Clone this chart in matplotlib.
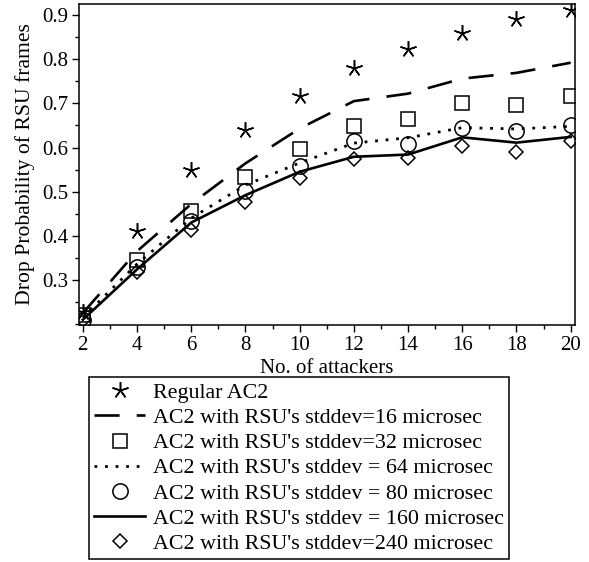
import matplotlib
matplotlib.use("Agg")
import matplotlib.pyplot as plt
from matplotlib.ticker import MultipleLocator, FormatStrFormatter

plt.rcParams['font.family'] = ['Liberation Serif', 'DejaVu Serif']
plt.rcParams['font.size'] = 15

attackers = [2, 4, 6, 8, 10, 12, 14, 16, 18, 20]
regular_ac2 = [0.228, 0.411, 0.549, 0.639, 0.716, 0.779, 0.824, 0.860, 0.892, 0.912]
sd16 = [0.225, 0.365, 0.472, 0.564, 0.643, 0.705, 0.722, 0.756, 0.769, 0.792]
sd32 = [0.221, 0.345, 0.456, 0.534, 0.596, 0.649, 0.664, 0.700, 0.696, 0.716]
sd64 = [0.215, 0.336, 0.440, 0.515, 0.565, 0.610, 0.622, 0.645, 0.642, 0.648]
sd80 = [0.210, 0.330, 0.434, 0.502, 0.559, 0.615, 0.608, 0.645, 0.637, 0.651]
sd160 = [0.210, 0.324, 0.430, 0.492, 0.545, 0.579, 0.584, 0.623, 0.611, 0.624]
sd240 = [0.210, 0.319, 0.413, 0.477, 0.531, 0.574, 0.577, 0.604, 0.589, 0.615]

labels = ["Regular AC2",
          "AC2 with RSU's stddev=16 microsec",
          "AC2 with RSU's stddev=32 microsec",
          "AC2 with RSU's stddev = 64 microsec",
          "AC2 with RSU's stddev = 80 microsec",
          "AC2 with RSU's stddev = 160 microsec",
          "AC2 with RSU's stddev=240 microsec"]

fig = plt.figure(figsize=(5.89, 5.62), dpi=100)
ax = fig.add_axes([79/589, 1-325/562, (575-79)/589, (325-4)/562])

mk = dict(linestyle='none', color='black', markerfacecolor='none', markeredgewidth=1.1)
ax.plot(attackers, regular_ac2, marker=(5, 2, 0), markersize=12, label=labels[0], **mk)
ax.plot(attackers, sd16, color='black', linewidth=1.9, dashes=(9.5, 6.5), label=labels[1])
ax.plot(attackers, sd32, marker='s', markersize=10.5, label=labels[2], **mk)
ax.plot(attackers, sd64, color='black', linewidth=2.0, dashes=(1, 2.8), label=labels[3])
ax.plot(attackers, sd80, marker='o', markersize=11, label=labels[4], **mk)
ax.plot(attackers, sd160, color='black', linewidth=1.9, linestyle='-', label=labels[5])
ax.plot(attackers, sd240, marker='D', markersize=7.5, label=labels[6], **mk)

ax.set_xlim(1.86, 20.16)
ax.set_ylim(0.198, 0.925)
ax.xaxis.set_major_locator(MultipleLocator(2))
ax.xaxis.set_minor_locator(MultipleLocator(1))
ax.set_yticks([0.3, 0.4, 0.5, 0.6, 0.7, 0.8, 0.9])
ax.yaxis.set_minor_locator(MultipleLocator(0.05))
ax.yaxis.set_major_formatter(FormatStrFormatter('%.1f'))
ax.tick_params(which='major', length=5, width=1.0, direction='out', pad=3)
ax.tick_params(which='minor', length=3, width=1.0, direction='out')
for s in ax.spines.values():
    s.set_linewidth(1.1)

ax.set_xlabel("No. of attackers", labelpad=3)
ax.set_ylabel("Drop Probability of RSU frames", fontsize=15.6, labelpad=5)

leg = fig.legend(loc='upper left', bbox_to_anchor=(89/589, 1-377/562),
                 borderaxespad=0, frameon=True, fancybox=False,
                 edgecolor='black', framealpha=1, handlelength=2.3,
                 handletextpad=0.37, labelspacing=0.22, borderpad=0.25,
                 fontsize=15.8)
leg.get_frame().set_linewidth(1.1)

fig.savefig("out.png", dpi=100)
